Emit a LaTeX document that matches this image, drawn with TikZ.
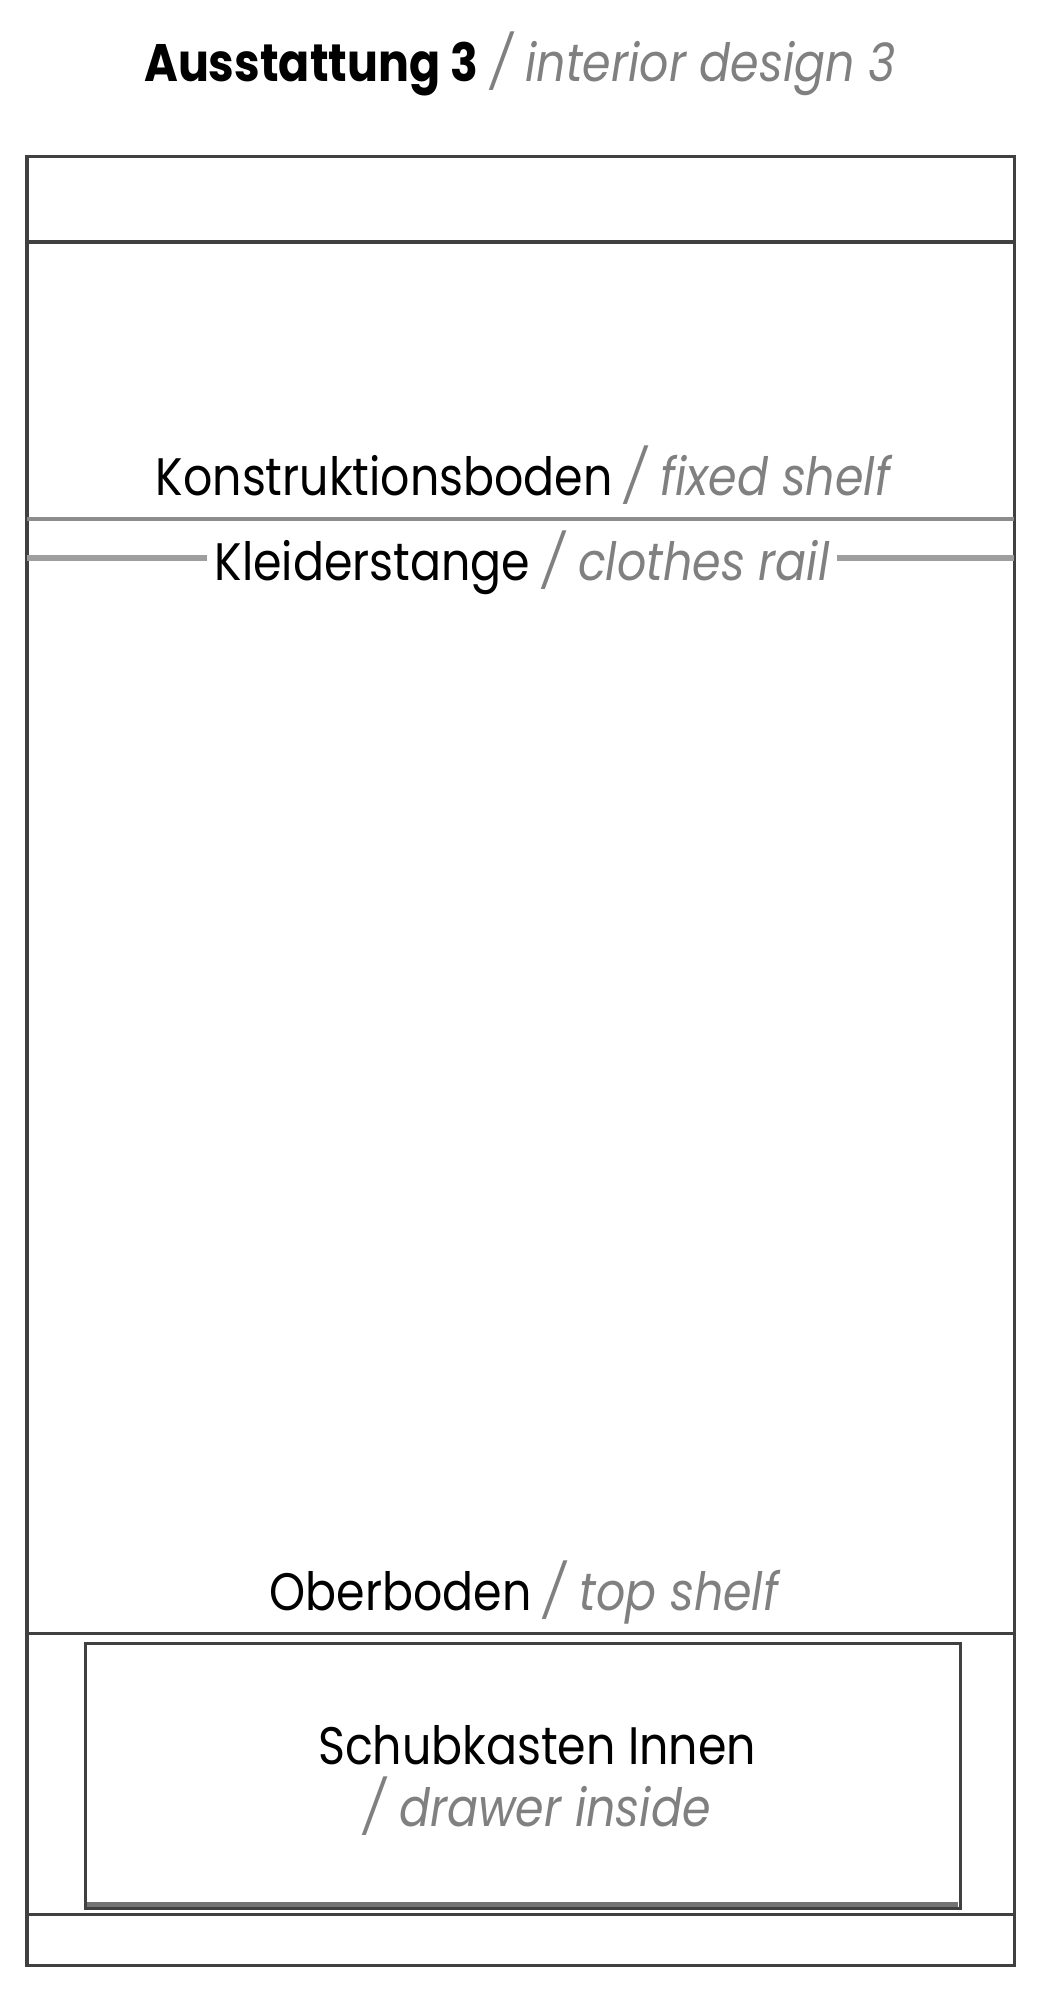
\documentclass[tikz,border=0pt]{standalone}
\usepackage{fontspec}
\setmainfont{Poppins}[FakeStretch=0.87]
\usetikzlibrary{positioning}

\definecolor{engl}{gray}{0.5}
\definecolor{railgray}{gray}{0.62}

\tikzset{
  wall/.style={draw=black!75, line width=0.03cm},
  shelfline/.style={draw=black!45, line width=0.045cm},
  railline/.style={draw=railgray, line width=0.055cm},
  lbl/.style={font=\fontsize{15}{18}\selectfont, inner sep=0pt, anchor=base},
}
\newcommand{\engl}[1]{{\color{engl}\itshape #1}}

\begin{document}
\begin{tikzpicture}[x=0.01cm, y=-0.01cm]
    \useasboundingbox (0,0) rectangle (1054,2000);

    % Heading
    \node[lbl] (title) at (520,82) {\textbf{Ausstattung 3} \engl{/ interior design 3}};

    % Outer carcass with fixed and top shelves
    \draw[wall] (27,157) rectangle (1014,1965);
    \draw[wall] (27,242) -- (1014,242);
    \draw[shelfline] (27,519) -- (1014,519);
    \draw[wall] (27,1633) -- (1014,1633);
    \draw[wall] (27,1914) -- (1014,1914);

    % Shelf labels
    \node[lbl] (fixed) at (523,495) {Konstruktionsboden \engl{/ fixed shelf}};
    \node[lbl] (top) at (524,1610) {Oberboden \engl{/ top shelf}};

    % Clothes rail, broken by its label
    \coordinate (railL) at (27,558);
    \coordinate (railR) at (1014,558);
    \node[lbl, anchor=center, inner xsep=2pt, yshift=-0.05cm] (rail) at (522,558) {Kleiderstange \engl{/ clothes rail}};
    \draw[railline] (railL) -- (rail.west |- railL);
    \draw[railline] (rail.east |- railR) -- (railR);

    % Drawer inside
    \draw[wall] (85,1643) rectangle (960,1908);
    \draw[black!55, line width=0.05cm] (87,1904) -- (958,1904);
    \node[lbl, anchor=center, align=center, font=\fontsize{15}{17.6}\selectfont] (drawer) at (537,1780) {Schubkasten Innen\\\engl{/ drawer inside}};

\end{tikzpicture}
\end{document}
